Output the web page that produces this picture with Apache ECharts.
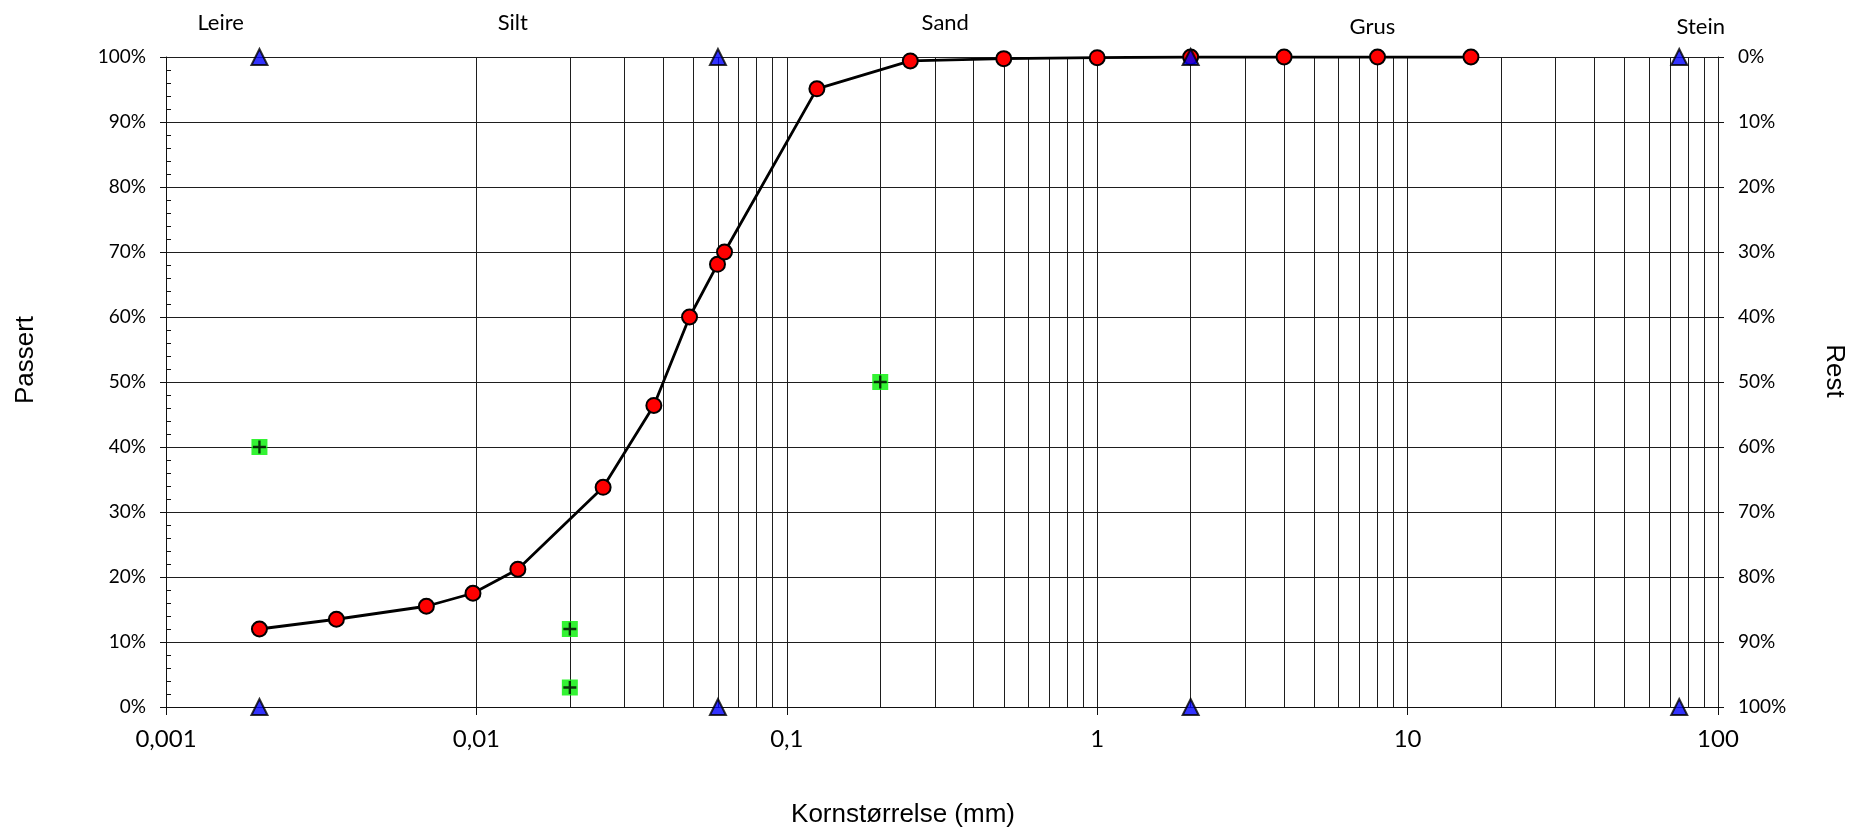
<!DOCTYPE html>
<html>
<head>
<meta charset="utf-8">
<script src="https://cdn.jsdelivr.net/npm/echarts@6/dist/echarts.min.js"></script>
<style>
html,body{margin:0;padding:0;background:#fff;}
#chart{width:1852px;height:831px;}
</style>
</head>
<body>
<div id="chart"></div>
<script>
// ---- data ----
const grainSize = [0.002, 0.00354, 0.0069, 0.00975, 0.0136, 0.0256, 0.0373, 0.0486, 0.0598, 0.063, 0.125, 0.25, 0.5, 1, 2, 4, 8, 16];
const passing   = [12.0, 13.5, 15.5, 17.5, 21.2, 33.8, 46.4, 60.0, 68.1, 70.0, 95.1, 99.4, 99.75, 99.9, 100, 100, 100, 100];

const extraSize    = [0.002, 0.02, 0.02, 0.2];
const extraPassing = [40, 12, 3, 50];

const boundarySize = [0.002, 0.06, 2, 75];
const boundaryLevels = [0, 100];
const boundaryLineSize = [0.002, 0.06, 2];

const zoneNames  = ['Leire', 'Silt', 'Sand', 'Grus', 'Stein'];
const zoneLabelX = [0.0015, 0.0131, 0.324, 7.7, 88];
const zoneLabelY = [105.3, 105.3, 105.3, 104.7, 104.7];

const decades = [0.001, 0.01, 0.1, 1, 10];
const multiples = [1, 2, 3, 4, 5, 6, 7, 8, 9];

// ---- build ----
const gridValues = [];
decades.forEach(d => multiples.forEach(m => gridValues.push(+(d * m).toPrecision(4))));
gridValues.push(100);

const mainData = grainSize.map((x, i) => [x, passing[i]]);
const extraData = extraSize.map((x, i) => [x, extraPassing[i]]);
const triData = [];
boundarySize.forEach(x => boundaryLevels.forEach(y => triData.push([x, y])));

const chart = echarts.init(document.getElementById('chart'));
const lineColor = '#1e1e1e';
const tickFont = 'Lato';

const option = {
  animation: false,
  backgroundColor: '#ffffff',
  grid: { left: 166, right: 134, top: 57, bottom: 124, containLabel: false },
  xAxis: {
    type: 'log', logBase: 10, min: 0.001, max: 100, splitNumber: 5,
    axisLine: { show: true, lineStyle: { color: '#111', width: 1 } },
    axisTick: { show: true, length: 8, lineStyle: { color: '#111' } },
    splitLine: { show: false },
    minorTick: { show: false },
    axisLabel: {
      margin: 20, fontFamily: tickFont, fontSize: 24, color: '#000',
      formatter: v => String(+(+v).toPrecision(4)).replace('.', ',')
    }
  },
  yAxis: [
    {
      type: 'value', min: 0, max: 100, interval: 10, position: 'left',
      axisLine: { show: true, lineStyle: { color: '#111', width: 1 } },
      axisTick: { show: true, length: 6, lineStyle: { color: '#111' } },
      splitLine: { show: true, lineStyle: { color: lineColor, width: 1 } },
      axisLabel: { margin: 20, fontFamily: tickFont, fontSize: 19, color: '#000', formatter: '{value}%' }
    },
    {
      type: 'value', min: 0, max: 100, interval: 10, position: 'left',
      axisLine: { show: false },
      axisTick: { show: false, inside: true },
      minorTick: { show: true, splitNumber: 5, length: 5, lineStyle: { color: '#111', width: 1 } },
      splitLine: { show: false },
      axisLabel: { show: false }
    },
    {
      type: 'value', min: 0, max: 100, interval: 10, position: 'right', inverse: true,
      axisLine: { show: true, lineStyle: { color: '#111', width: 1 } },
      axisTick: { show: true, length: 6, lineStyle: { color: '#111' } },
      splitLine: { show: false },
      axisLabel: { margin: 20, fontFamily: tickFont, fontSize: 19, color: '#000', formatter: '{value}%' }
    }
  ],
  series: [
    {
      name: 'grid', type: 'line', data: [], z: 1, silent: true,
      markLine: {
        silent: true, symbol: ['none', 'none'], animation: false,
        label: { show: false },
        lineStyle: { type: 'solid', color: lineColor, width: 1 },
        emphasis: { disabled: true },
        data: gridValues.map(v => ({ xAxis: v }))
      }
    },
    {
      name: 'boundaryLines', type: 'line', data: [], z: 2, silent: true,
      markLine: {
        silent: true, symbol: ['none', 'none'], animation: false,
        label: { show: false },
        lineStyle: { type: 'solid', color: '#222', width: 1 },
        emphasis: { disabled: true },
        data: boundaryLineSize.map(v => ({ xAxis: v }))
      }
    },
    {
      name: 'Passert', type: 'line', data: mainData, z: 5,
      symbol: 'circle', symbolSize: 15,
      lineStyle: { color: '#000', width: 2.8 },
      itemStyle: { color: '#ff0000', borderColor: '#000', borderWidth: 2 }
    },
    {
      name: 'extraBox', type: 'scatter', data: extraData, z: 6,
      symbol: 'rect', symbolSize: 16,
      itemStyle: { color: '#00f000' }
    },
    {
      name: 'extraPlus', type: 'scatter', data: extraData, z: 7,
      symbol: 'path://M4.5,0h2v4.5h4.5v2h-4.5v4.5h-2v-4.5h-4.5v-2h4.5z', symbolSize: 13,
      itemStyle: { color: '#000' }
    },
    {
      name: 'boundaries', type: 'scatter', data: triData, z: 8, clip: false,
      symbol: 'triangle', symbolSize: [16, 16],
      itemStyle: { color: '#0000ff', borderColor: '#000', borderWidth: 2 }
    }
  ]
};
chart.setOption(option);

const graphics = [];
zoneNames.forEach((name, i) => {
  const p = chart.convertToPixel({ xAxisIndex: 0, yAxisIndex: 0 }, [zoneLabelX[i], zoneLabelY[i]]);
  graphics.push({
    type: 'text', x: p[0], y: p[1], silent: true,
    style: { text: name, fontFamily: tickFont, fontSize: 22, fill: '#000', align: 'center', verticalAlign: 'middle' }
  });
});
graphics.push({
  type: 'text', x: 26, y: 360, rotation: Math.PI / 2, silent: true,
  style: { text: 'Passert', fontFamily: 'Liberation Sans', fontSize: 26, fill: '#000', align: 'center', verticalAlign: 'middle' }
});
graphics.push({
  type: 'text', x: 1834, y: 371, rotation: -Math.PI / 2, silent: true,
  style: { text: 'Rest', fontFamily: 'Liberation Sans', fontSize: 26, fill: '#000', align: 'center', verticalAlign: 'middle' }
});
graphics.push({
  type: 'text', x: 903, y: 815, silent: true,
  style: { text: 'Kornstørrelse (mm)', fontFamily: 'Liberation Sans', fontSize: 26, fill: '#000', align: 'center', verticalAlign: 'middle' }
});
chart.setOption({ graphic: graphics });
</script>
</body>
</html>
